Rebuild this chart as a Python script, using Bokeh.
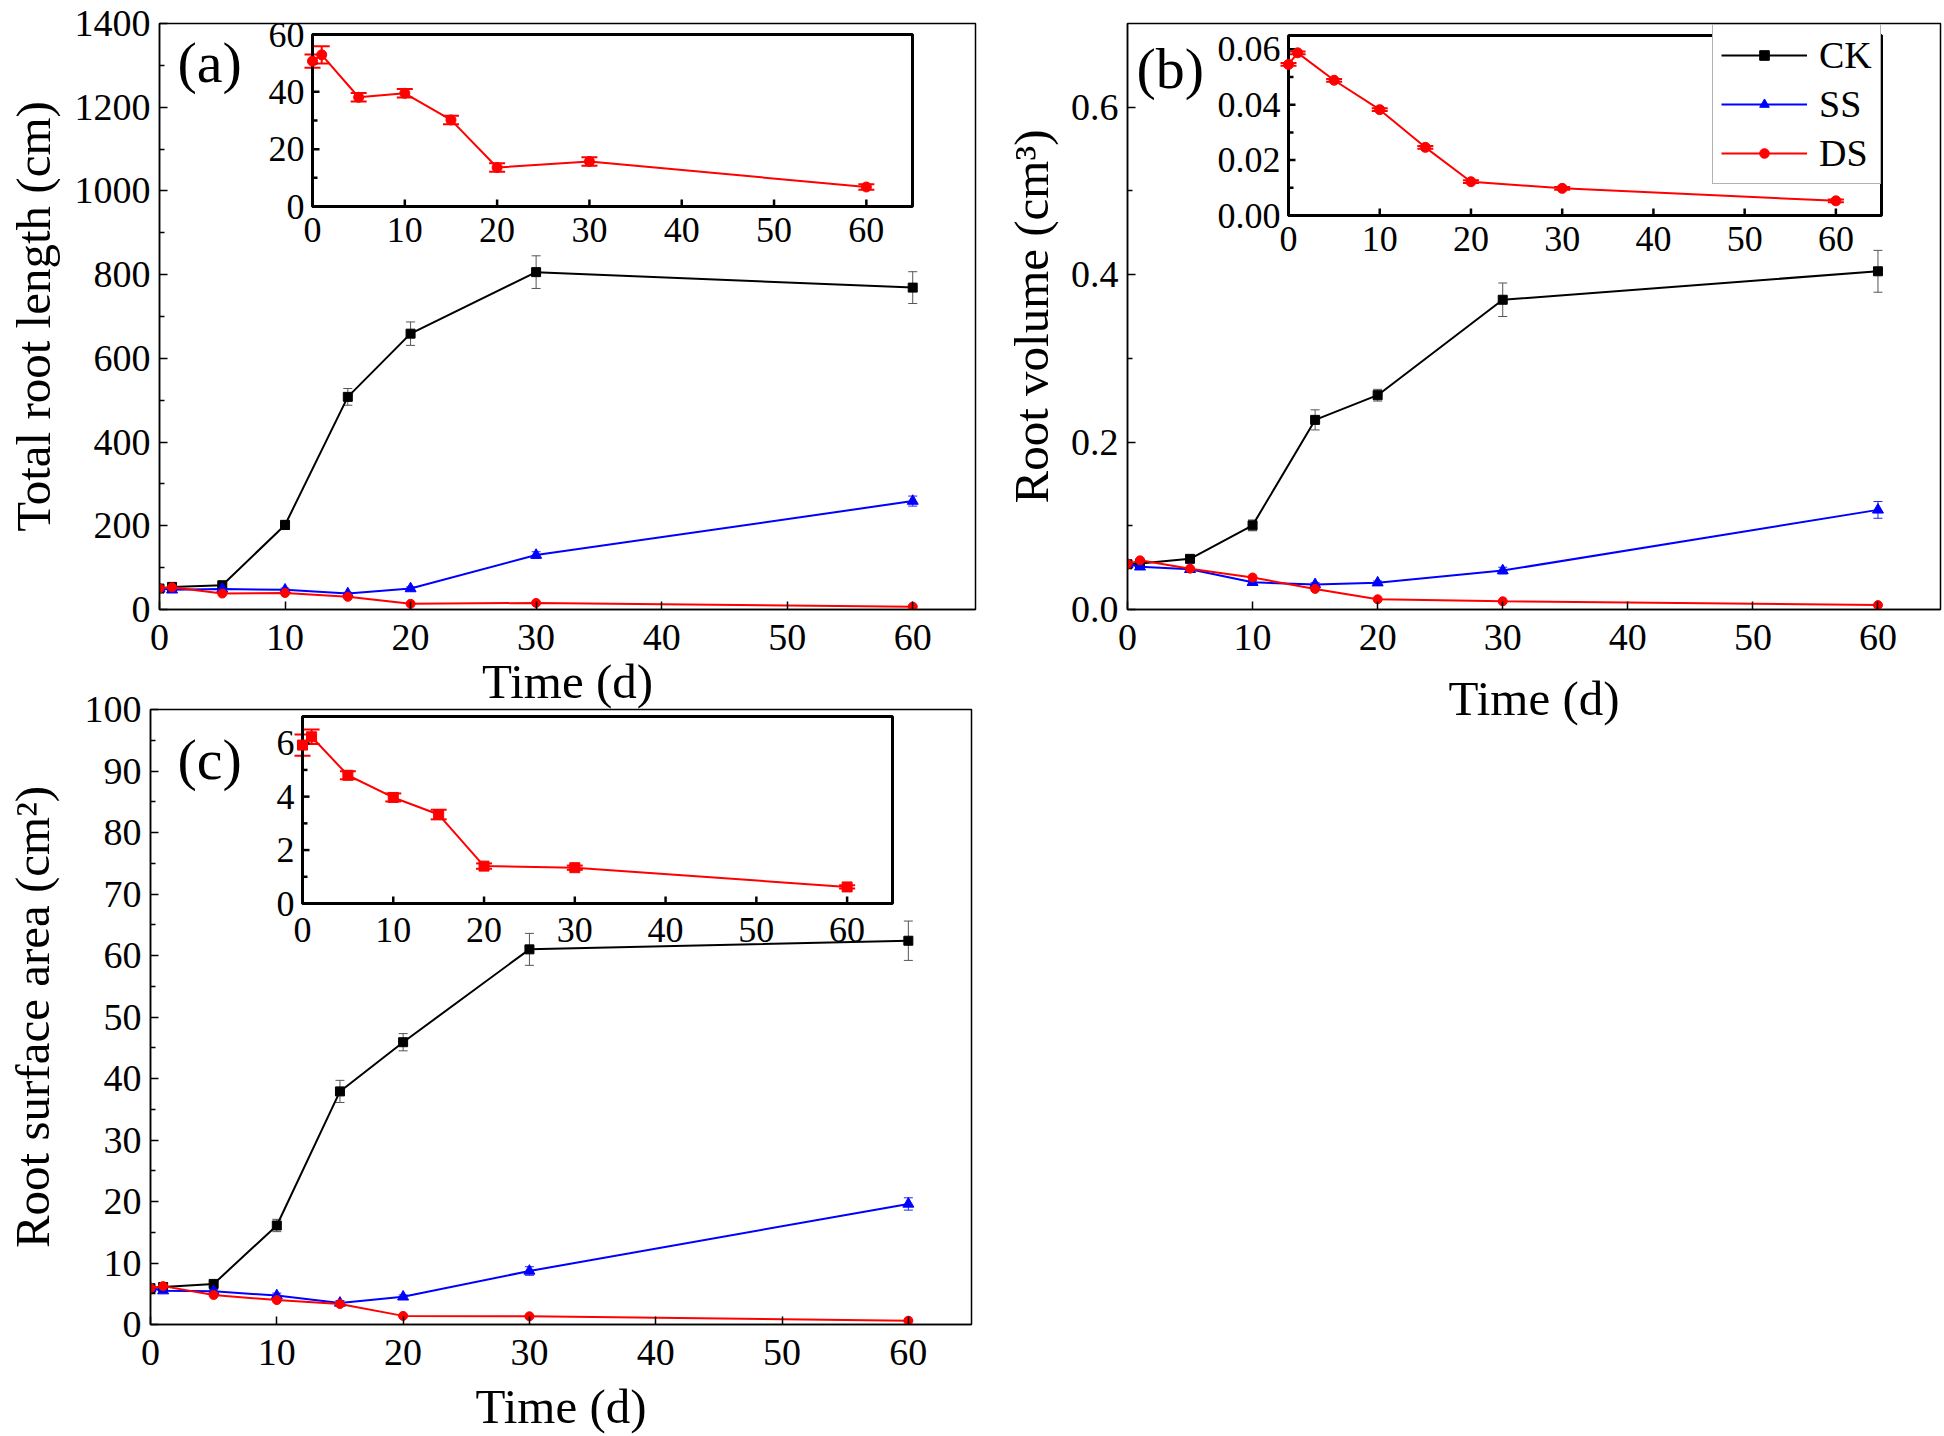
from bokeh.plotting import figure
from bokeh.layouts import column, row
from bokeh.models import (Range1d, FixedTicker, Whisker, TeeHead, ColumnDataSource,
                          Legend, LegendItem, Label)
from bokeh.embed import file_html
from bokeh.resources import INLINE
from bokeh.core.properties import value

# ---------------- data ----------------
time_d = [0, 1, 5, 10, 15, 20, 30, 60]

length_ck = [50, 54, 58, 202, 508, 659, 806, 769]
length_ck_err = [3, 3, 4, 11, 20, 28, 39, 38]
length_ss = [50, 47, 49, 47, 38, 50, 130, 259]
length_ss_err = [3, 3, 3, 4, 3, 4, 8, 12]
length_ds = [50.7, 52.9, 38.1, 39.5, 30.2, 13.6, 15.7, 6.8]
length_ds_err = [2.3, 3.0, 1.5, 1.5, 1.5, 1.5, 1.5, 1.0]

volume_ck = [0.054, 0.055, 0.0605, 0.1005, 0.2265, 0.256, 0.370, 0.404]
volume_ck_err = [0.002, 0.002, 0.002, 0.0065, 0.012, 0.007, 0.020, 0.025]
volume_ss = [0.054, 0.051, 0.048, 0.0325, 0.030, 0.032, 0.0465, 0.119]
volume_ss_err = [0.002, 0.002, 0.002, 0.002, 0.002, 0.002, 0.004, 0.010]
volume_ds = [0.0545, 0.0587, 0.0488, 0.0382, 0.0246, 0.0122, 0.0098, 0.0053]
volume_ds_err = [0.0005, 0.0005, 0.0005, 0.0005, 0.0005, 0.0005, 0.0005, 0.0005]

area_ck = [5.9, 6.1, 6.6, 16.1, 37.9, 45.9, 61.0, 62.4]
area_ck_err = [0.4, 0.4, 0.4, 1.0, 1.8, 1.4, 2.6, 3.2]
area_ss = [5.9, 5.5, 5.4, 4.7, 3.5, 4.5, 8.7, 19.6]
area_ss_err = [0.3, 0.3, 0.3, 0.4, 0.4, 0.3, 0.7, 1.0]
area_ds = [5.93, 6.24, 4.80, 3.97, 3.33, 1.40, 1.34, 0.62]
area_ds_err = [0.4, 0.27, 0.15, 0.15, 0.18, 0.10, 0.08, 0.06]

series_names = ["CK", "SS", "DS"]

x_ticks = [0, 10, 20, 30, 40, 50, 60]
x_tick_labels = ["0", "10", "20", "30", "40", "50", "60"]
x_limit = 65

length_yticks = [0, 200, 400, 600, 800, 1000, 1200, 1400]
length_ytick_labels = ["0", "200", "400", "600", "800", "1000", "1200", "1400"]
length_yminor = [100, 300, 500, 700, 900, 1100, 1300]
length_ylimit = 1400

volume_yticks = [0, 0.2, 0.4, 0.6]
volume_ytick_labels = ["0.0", "0.2", "0.4", "0.6"]
volume_yminor = [0.1, 0.3, 0.5]
volume_ylimit = 0.7

area_yticks = [0, 10, 20, 30, 40, 50, 60, 70, 80, 90, 100]
area_ytick_labels = ["0", "10", "20", "30", "40", "50", "60", "70", "80", "90", "100"]
area_yminor = [5, 15, 25, 35, 45, 55, 65, 75, 85, 95]
area_ylimit = 100

inset_length_yticks = [0, 20, 40, 60]
inset_length_ytick_labels = ["0", "20", "40", "60"]
inset_length_yminor = [10, 30, 50]
inset_length_ylimit = 60

inset_volume_yticks = [0, 0.02, 0.04, 0.06]
inset_volume_ytick_labels = ["0.00", "0.02", "0.04", "0.06"]
inset_volume_yminor = [0.01, 0.03, 0.05]
inset_volume_ylimit = 0.065

inset_area_yticks = [0, 2, 4, 6]
inset_area_ytick_labels = ["0", "2", "4", "6"]
inset_area_yminor = [1, 3, 5]
inset_area_ylimit = 7

# ---------------- styles / layout (page pixels) ----------------
FONT = "Liberation Serif"
COLORS = {"CK": "#000000", "SS": "#0000FF", "DS": "#FF0000"}
ERR_COLORS = {"CK": "#555555", "SS": "#2222FF", "DS": "#FF0000"}
MARKERS = {"CK": "square", "SS": "triangle", "DS": "circle"}
SIZES = {"CK": 9, "SS": 11, "DS": 9}

# canvas origin (page), canvas size, frame (L, R, T, B) in page px
GEOM = {
    "a": dict(ox=0, oy=0, w=1000, h=730, L=159, R=975, T=23, B=609),
    "b": dict(ox=1000, oy=0, w=944, h=730, L=1127, R=1940, T=17, B=609),
    "c": dict(ox=0, oy=686, w=1000, h=750, L=150, R=971, T=709, B=1324),
}
YTITLE_STANDOFF = {"a": 11, "b": 9, "c": 22}
XTITLE_STANDOFF = {"a": 1, "b": 18, "c": 11}
INSET = {
    "a": dict(l=312, r=912, t=34, b=206, xoff=11),
    "b": dict(l=1288, r=1881, t=29, b=211, xoff=11),
    "c": dict(l=302, r=892, t=716, b=903, xoff=14),
}
LETTER_POS = {"a": (177, 62), "b": (1136, 62), "c": (177, 759)}
LEGEND_BOX = dict(left=1712, bottom=184)


def make_main(key, ylimit, yticks, ylabels, yminor, ylabel):
    g = GEOM[key]
    p = figure(width=g["w"], height=g["h"],
               x_range=Range1d(0, x_limit), y_range=Range1d(0, ylimit),
               output_backend="svg", toolbar_location=None,
               min_border_left=g["L"] - g["ox"], min_border_right=g["ox"] + g["w"] - g["R"],
               min_border_top=g["T"] - g["oy"], min_border_bottom=g["oy"] + g["h"] - g["B"])
    p.xgrid.visible = False
    p.ygrid.visible = False
    p.outline_line_color = "black"
    p.outline_line_width = 1.5
    p.outline_line_alpha = 1
    p.border_fill_alpha = 0
    p.background_fill_color = None

    p.xaxis.ticker = FixedTicker(ticks=x_ticks, minor_ticks=[])
    p.xaxis.major_label_overrides = {float(t): s for t, s in zip(x_ticks, x_tick_labels)}
    p.yaxis.ticker = FixedTicker(ticks=yticks, minor_ticks=yminor)
    p.yaxis.major_label_overrides = {float(t): s for t, s in zip(yticks, ylabels)}
    for ax in (p.xaxis[0], p.yaxis[0]):
        ax.axis_line_width = 1.5
        ax.axis_line_color = "black"
        ax.major_tick_in = 8
        ax.major_tick_out = 0
        ax.minor_tick_in = 5
        ax.minor_tick_out = 0
        ax.major_tick_line_width = 1.5
        ax.minor_tick_line_width = 1.5
        ax.major_tick_line_color = "black"
        ax.minor_tick_line_color = "black"
        ax.major_label_text_font = FONT
        ax.major_label_text_font_size = "38px"
        ax.major_label_text_color = "black"
        ax.axis_label_text_font = FONT
        ax.axis_label_text_font_size = "49px"
        ax.axis_label_text_font_style = "normal"
        ax.axis_label_text_color = "black"
    p.xaxis.axis_label = "Time (d)"
    p.xaxis.major_label_standoff = 15
    p.xaxis.axis_label_standoff = XTITLE_STANDOFF[key]
    p.yaxis.axis_label = ylabel
    p.yaxis.major_label_standoff = 9
    p.yaxis.axis_label_standoff = YTITLE_STANDOFF[key]

    # panel letter
    lx, ly = LETTER_POS[key]
    p.add_layout(Label(x=(lx - g["L"]) / (g["R"] - g["L"]) * x_limit,
                       y=(g["B"] - ly) / (g["B"] - g["T"]) * ylimit,
                       text="(" + key + ")", text_font=FONT, text_font_size="58px",
                       text_baseline="middle", text_align="left", text_color="black"))
    return p


def add_inset_ranges(p, key, ylimit):
    g = GEOM[key]
    ins = INSET[key]
    ku = x_limit / (ins["r"] - ins["l"])
    kv = ylimit / (ins["b"] - ins["t"])
    p.extra_x_ranges = {"ix": Range1d(-(ins["l"] - g["L"]) * ku, x_limit + (g["R"] - ins["r"]) * ku)}
    p.extra_y_ranges = {"iy": Range1d(-(g["B"] - ins["b"]) * kv, ylimit + (ins["t"] - g["T"]) * kv)}
    return 1 / ku, 1 / kv  # px per unit


def draw_inset_axes(p, key, ylimit, yticks, ylabels, yminor, font_size):
    pxu, pyu = add_inset_ranges(p, key, ylimit)
    kw = dict(x_range_name="ix", y_range_name="iy")
    # frame
    p.quad(left=[0], right=[x_limit], bottom=[0], top=[ylimit], fill_color=None,
           line_color="black", line_width=3, **kw)
    # x ticks
    tl = 7 / pyu
    p.segment(x0=x_ticks, x1=x_ticks, y0=[0] * len(x_ticks), y1=[tl] * len(x_ticks),
              line_color="black", line_width=2.5, **kw)
    # y ticks
    p.segment(x0=[0] * len(yticks), x1=[7 / pxu] * len(yticks), y0=yticks, y1=yticks,
              line_color="black", line_width=2.5, **kw)
    p.segment(x0=[0] * len(yminor), x1=[5 / pxu] * len(yminor), y0=yminor, y1=yminor,
              line_color="black", line_width=2.5, **kw)
    # labels
    p.text(x=x_ticks, y=[0] * len(x_ticks), text=x_tick_labels, text_font=value(FONT),
           text_font_size=value(font_size), text_align="center", text_baseline="top",
           y_offset=INSET[key]["xoff"], text_color="black", **kw)
    p.text(x=[0] * len(yticks), y=yticks, text=ylabels, text_font=value(FONT),
           text_font_size=value(font_size), text_align="right", text_baseline="middle",
           x_offset=-8, text_color="black", **kw)


def draw_series(p, y, err, name, inset=False, marker=None, size=None):
    src = ColumnDataSource(dict(x=time_d, y=y,
                                lo=[a - b for a, b in zip(y, err)],
                                hi=[a + b for a, b in zip(y, err)]))
    kw = dict(x_range_name="ix", y_range_name="iy") if inset else {}
    col = COLORS[name]
    ecol = ERR_COLORS[name]
    cap = 16 if inset else 9
    elw = 2 if inset else 1
    w = Whisker(source=src, base="x", lower="lo", upper="hi", dimension="height",
                line_color=ecol, line_width=elw,
                upper_head=TeeHead(size=cap, line_color=ecol, line_width=elw),
                lower_head=TeeHead(size=cap, line_color=ecol, line_width=elw), **kw)
    p.add_layout(w)
    ln = p.line("x", "y", source=src, line_color=col, line_width=2, **kw)
    sc = p.scatter("x", "y", source=src, marker=marker or MARKERS[name],
                   size=size or SIZES[name], fill_color=col, line_color=col, **kw)
    return ln, sc


# ---------------- panel (a) ----------------
pa = make_main("a", length_ylimit, length_yticks, length_ytick_labels, length_yminor,
               "Total root length (cm)")
draw_inset_axes(pa, "a", inset_length_ylimit, inset_length_yticks,
                inset_length_ytick_labels, inset_length_yminor, "36px")
draw_series(pa, length_ds, length_ds_err, "DS", inset=True, size=10)
for nm, y, e in [("CK", length_ck, length_ck_err), ("SS", length_ss, length_ss_err),
                 ("DS", length_ds, length_ds_err)]:
    draw_series(pa, y, e, nm)

# ---------------- panel (b) ----------------
pb = make_main("b", volume_ylimit, volume_yticks, volume_ytick_labels, volume_yminor,
               "Root volume (cm³)")
draw_inset_axes(pb, "b", inset_volume_ylimit, inset_volume_yticks,
                inset_volume_ytick_labels, inset_volume_yminor, "36px")
draw_series(pb, volume_ds, volume_ds_err, "DS", inset=True, size=10)
legend_renderers = {}
for nm, y, e in [("CK", volume_ck, volume_ck_err), ("SS", volume_ss, volume_ss_err),
                 ("DS", volume_ds, volume_ds_err)]:
    legend_renderers[nm] = draw_series(pb, y, e, nm)

gb = GEOM["b"]
legend = Legend(items=[LegendItem(label=nm, renderers=list(legend_renderers[nm]))
                       for nm in series_names],
                location=(LEGEND_BOX["left"] - gb["L"], gb["B"] - LEGEND_BOX["bottom"]))
legend.label_text_font = FONT
legend.label_text_font_size = "38px"
legend.label_text_color = "black"
legend.glyph_width = 86
legend.glyph_height = 24
legend.label_standoff = 12
legend.padding = 8
legend.spacing = 5
legend.margin = 0
legend.border_line_color = "#666666"
legend.border_line_width = 1
legend.background_fill_color = "white"
legend.background_fill_alpha = 1
pb.add_layout(legend, "center")

# ---------------- panel (c) ----------------
pc = make_main("c", area_ylimit, area_yticks, area_ytick_labels, area_yminor,
               "Root surface area (cm²)")
draw_inset_axes(pc, "c", inset_area_ylimit, inset_area_yticks,
                inset_area_ytick_labels, inset_area_yminor, "36px")
draw_series(pc, area_ds, area_ds_err, "DS", inset=True, marker="square", size=10)
for nm, y, e in [("CK", area_ck, area_ck_err), ("SS", area_ss, area_ss_err),
                 ("DS", area_ds, area_ds_err)]:
    draw_series(pc, y, e, nm)

pc.margin = (GEOM["c"]["oy"] - (GEOM["a"]["oy"] + GEOM["a"]["h"]), 0, 0, 0)

layout = column(row(pa, pb), pc)
open("out.html", "w").write(file_html(layout, INLINE))
